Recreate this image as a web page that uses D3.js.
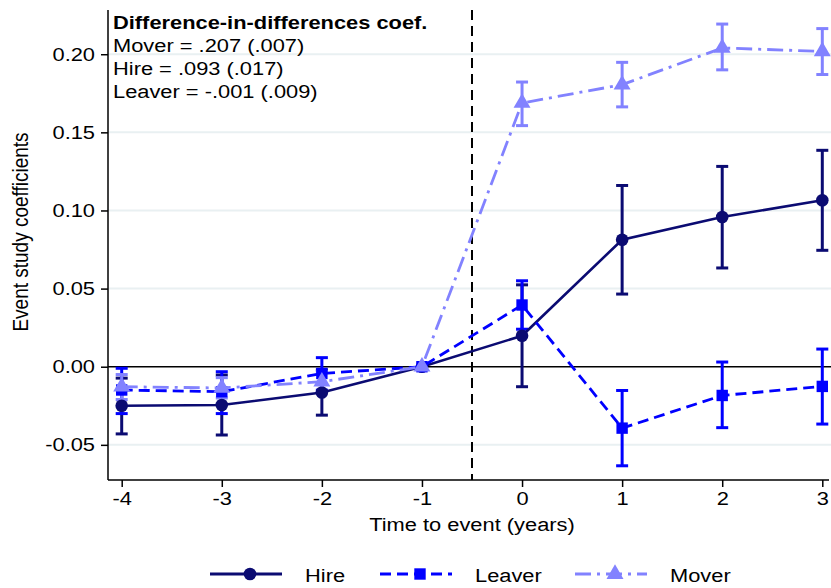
<!DOCTYPE html>
<html><head><meta charset="utf-8">
<script src="https://cdn.jsdelivr.net/npm/d3@7"></script>
<style>html,body{margin:0;padding:0;background:#fff;} svg{display:block;}</style>
</head><body>
<svg id="chart" width="831" height="588"></svg>
<script>
const years = [-4, -3, -2, -1, 0, 1, 2, 3];
const xTickLabels = ["-4", "-3", "-2", "-1", "0", "1", "2", "3"];
const yTicks = [-0.05, 0.00, 0.05, 0.10, 0.15, 0.20];
const yTickLabels = ["-0.05", "0.00", "0.05", "0.10", "0.15", "0.20"];

const hire   = [-0.0250, -0.0245, -0.0165, 0, 0.0198, 0.0813, 0.0958, 0.1065];
const hireLo = [-0.0430, -0.0437, -0.0310, 0, -0.0128, 0.0465, 0.0632, 0.0745];
const hireHi = [-0.0073, -0.0053, -0.0020, 0, 0.0524, 0.1160, 0.1282, 0.1385];

const leaver   = [-0.0149, -0.0160, -0.0043, 0, 0.0395, -0.0393, -0.0184, -0.0126];
const leaverLo = [-0.0300, -0.0300, -0.0150, 0, 0.0240, -0.0634, -0.0390, -0.0367];
const leaverHi = [-0.0010, -0.0032, 0.0058, 0, 0.0550, -0.0152, 0.0030, 0.0113];

const mover   = [-0.0128, -0.0136, -0.0096, 0, 0.1688, 0.1805, 0.2040, 0.2018];
const moverLo = [-0.0210, -0.0200, -0.0160, 0, 0.1543, 0.1663, 0.1900, 0.1870];
const moverHi = [-0.0050, -0.0070, -0.0030, 0, 0.1822, 0.1948, 0.2193, 0.2164];

const seriesNames = ["Hire", "Leaver", "Mover"];
const annotTitle = "Difference-in-differences coef.";
const annotLines = ["Mover = .207 (.007)", "Hire = .093 (.017)", "Leaver = -.001 (.009)"];

(function () {
const FONT = "'Liberation Sans', Arial, Helvetica, sans-serif";
const SX = 1.15; // horizontal stretch of the reference text
const FS = 19;
const svg = d3.select("#chart");

function txt(xp, yp, str, anchor, bold) {
  return svg.append("text")
    .attr("transform", `translate(${xp},${yp}) scale(${SX},1)`)
    .attr("text-anchor", anchor || "start")
    .attr("font-family", FONT).attr("font-size", FS)
    .attr("font-weight", bold ? "bold" : "normal")
    .attr("fill", "#000").text(str);
}

const pL = 108, pR = 831, pT = 10, pB = 480;
const x = d3.scaleLinear().domain([-4, 3]).range([121.7, 822.3]);
const y = d3.scaleLinear().domain([-0.0725, 0.2283]).range([pB, pT]);

// gridlines
svg.append("g").selectAll("line").data(yTicks.filter(v => v !== 0)).join("line")
  .attr("x1", pL).attr("x2", pR).attr("y1", d => y(d)).attr("y2", d => y(d))
  .attr("stroke", "#e9f0f2").attr("stroke-width", 2);

// zero line
svg.append("line").attr("x1", pL).attr("x2", pR).attr("y1", y(0)).attr("y2", y(0))
  .attr("stroke", "#000").attr("stroke-width", 1.5);

// vertical event line
svg.append("line").attr("x1", x(-0.5)).attr("x2", x(-0.5)).attr("y1", pT).attr("y2", pB)
  .attr("stroke", "#000").attr("stroke-width", 2).attr("stroke-dasharray", "10,6");

// axes
const yAxis = d3.axisLeft(y).tickValues(yTicks).tickFormat((d, i) => yTickLabels[i]).tickSize(7).tickSizeOuter(0);
const gy = svg.append("g").attr("transform", `translate(${pL},0)`).call(yAxis);
gy.select(".domain").attr("d", `M0,${pT}V${pB}`).attr("stroke", "#000").attr("stroke-width", 1.5);
gy.selectAll(".tick line").attr("stroke", "#000").attr("stroke-width", 1.5);
gy.selectAll(".tick text").attr("font-family", FONT).attr("font-size", FS).attr("fill", "#000")
  .attr("x", -13 / SX).attr("transform", `scale(${SX},1)`);

const xAxis = d3.axisBottom(x).tickValues(years).tickFormat((d, i) => xTickLabels[i]).tickSize(7).tickSizeOuter(0);
const gx = svg.append("g").attr("transform", `translate(0,${pB})`).call(xAxis);
gx.select(".domain").attr("d", `M${pL},0H${pR - 2}`).attr("stroke", "#000").attr("stroke-width", 1.5);
gx.selectAll(".tick line").attr("stroke", "#000").attr("stroke-width", 1.5);
gx.selectAll(".tick text").attr("font-family", FONT).attr("font-size", FS).attr("fill", "#000")
  .attr("y", 12).attr("transform", `scale(${SX},1)`);

// axis titles
svg.append("text").attr("transform", `translate(28,232) scale(${SX},1) rotate(-90)`).attr("text-anchor", "middle")
  .attr("font-family", FONT).attr("font-size", FS).text("Event study coefficients");
txt(472, 531, "Time to event (years)", "middle");

const series = [
  {name: seriesNames[0], v: hire, lo: hireLo, hi: hireHi, color: "#0b0b72", dash: null, sym: d3.symbolCircle, size: 125},
  {name: seriesNames[1], v: leaver, lo: leaverLo, hi: leaverHi, color: "#0000ff", dash: "11,6", sym: d3.symbolSquare, size: 130},
  {name: seriesNames[2], v: mover, lo: moverLo, hi: moverHi, color: "#8282ff", dash: "16,6,3,6", sym: d3.symbolTriangle, size: 125}
];

const capW = 6;
series.forEach(s => {
  const g = svg.append("g").attr("stroke", s.color).attr("stroke-width", 3).attr("fill", "none");
  years.forEach((yr, i) => {
    g.append("line").attr("x1", x(yr)).attr("x2", x(yr)).attr("y1", y(s.lo[i])).attr("y2", y(s.hi[i]));
    g.append("line").attr("x1", x(yr) - capW).attr("x2", x(yr) + capW).attr("y1", y(s.lo[i])).attr("y2", y(s.lo[i]));
    g.append("line").attr("x1", x(yr) - capW).attr("x2", x(yr) + capW).attr("y1", y(s.hi[i])).attr("y2", y(s.hi[i]));
  });
});

const line = d3.line().x((d, i) => x(years[i])).y(d => y(d));
series.forEach(s => {
  svg.append("path").attr("d", line(s.v)).attr("fill", "none").attr("stroke", s.color)
    .attr("stroke-width", s.name === "Hire" ? 2.6 : 2.8).attr("stroke-dasharray", s.dash);
  svg.append("g").selectAll("path").data(s.v).join("path")
    .attr("transform", (d, i) => `translate(${x(years[i])},${y(d)})`)
    .attr("d", d3.symbol().type(s.sym).size(s.size)).attr("fill", s.color);
});

// annotation
txt(113, 29, annotTitle, "start", true);
annotLines.forEach((t, i) => txt(113, 52 + i * 23, t, "start"));

// legend
const legX = [210, 380, 575];
const legY = 574;
series.forEach((s, i) => {
  const g = svg.append("g");
  g.append("line").attr("x1", legX[i]).attr("x2", legX[i] + 72).attr("y1", legY).attr("y2", legY)
    .attr("stroke", s.color).attr("stroke-width", 3).attr("stroke-dasharray", s.dash);
  g.append("path").attr("transform", `translate(${legX[i] + 40},${legY})`)
    .attr("d", d3.symbol().type(s.sym).size(s.size)).attr("fill", s.color);
  txt(legX[i] + 95, legY + 8, s.name, "start");
});
})();
</script>
</body></html>
